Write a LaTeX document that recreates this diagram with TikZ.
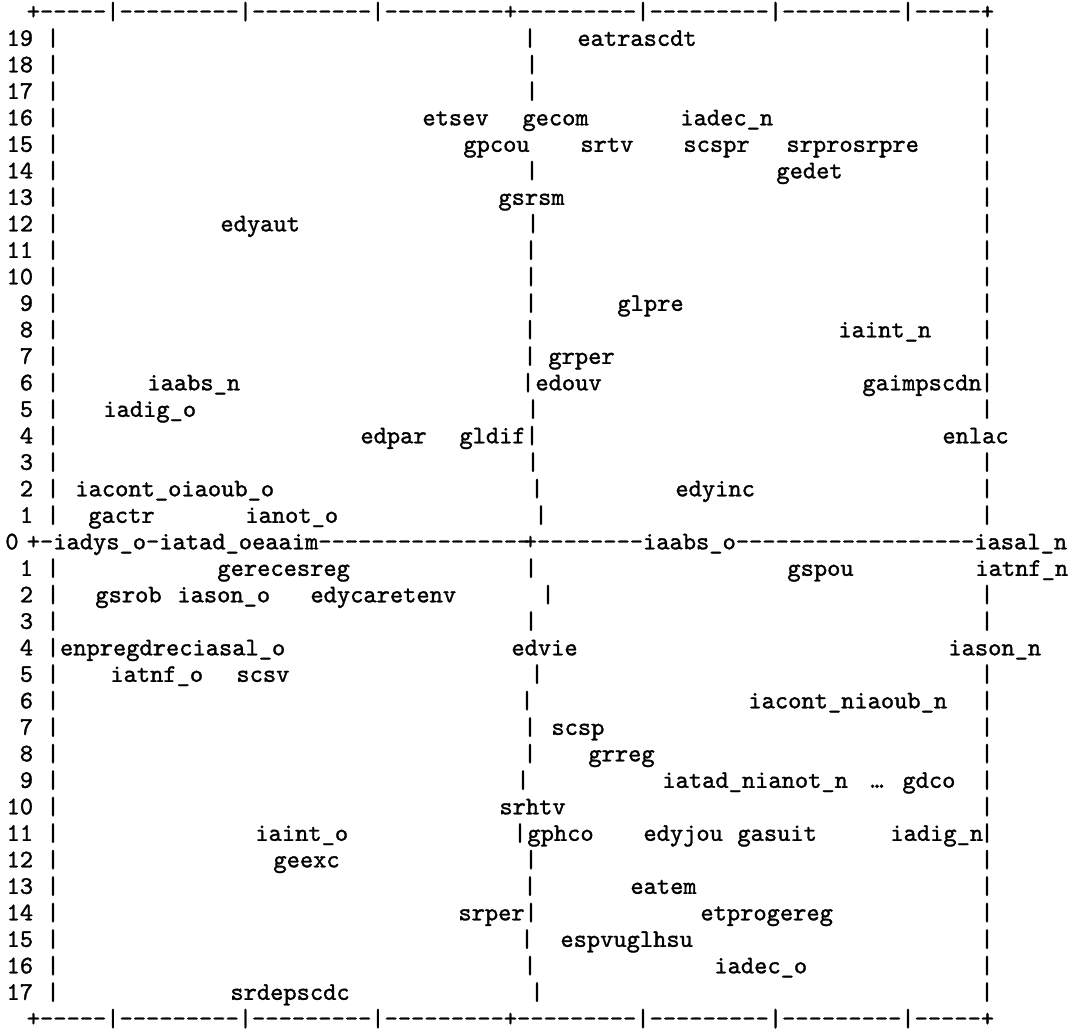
\documentclass[tikz,border=0pt]{standalone}
\usepackage{fontspec}
\newfontfamily\plotmono{lmmono10-regular.otf}[AutoFakeBold=1.3]
\newcommand\plotfont{\fontsize{12.62}{13}\selectfont\plotmono\bfseries}
\newcommand\dashrun[1]{\foreach \k in {1,...,#1}{\mbox{-}}}
\tikzset{
  lbl/.style={anchor=mid west,inner sep=0pt,font=\plotfont},
  bar/.style={anchor=mid,inner sep=0pt,font=\plotfont},
  num/.style={anchor=mid east,inner sep=0pt,font=\plotfont}
}
\begin{document}
\begin{tikzpicture}[x=0.5pt,y=13.25pt]
	\useasboundingbox (0,20.566) rectangle (1074,-18.377);
	% frame lines
	\node[lbl] (topline) at (26.4,20) {+\dashrun{5}|\dashrun{9}|\dashrun{9}|\dashrun{9}+\dashrun{9}|\dashrun{9}|\dashrun{9}|\dashrun{5}+};
	\node[lbl] (botline) at (26.4,-18) {+\dashrun{5}|\dashrun{9}|\dashrun{9}|\dashrun{9}+\dashrun{9}|\dashrun{9}|\dashrun{9}|\dashrun{5}+};
	\node[num] (zero) at (19,0) {0};
	\node[lbl] (axisleft) at (26.4,0) {+\mbox{-}iadys\_o\mbox{-}iatad\_oeaaim\dashrun{16}};
	\node[lbl] (axisright) at (523.4,0) {+\dashrun{8}iaabs\_o\dashrun{18}iasal\_n};
	% row numbers and sides
	\foreach \r in {1,...,19}{
		\node[num] at (33.5,\r) {\r};
		\node[bar] at (53,\r) {|};
	}
	\foreach \r in {1,...,17}{
		\node[num] at (33.5,-\r) {\r};
		\node[bar] at (53,-\r) {|};
	}
	\foreach \r in {1,2,3,5,6,...,19}
		\node[bar] at (987,\r) {|};
	\foreach \r in {2,3,5,6,...,17}
		\node[bar] at (987,-\r) {|};
	% middle axis
	\foreach \x/\r in {530/19,532/18,532/17,532/14,533/12,531/11,531/10,531/9,530/8,530/7,528/6,533/5,532/4,533/3,537/2,541/1,
		531/-1,548/-2,531/-3,537/-5,527/-6,530/-7,530/-8,523/-9,520/-11,531/-12,530/-13,531/-14,527/-15,530/-16,537/-17}
		\node[bar] at (\x,\r) {|};
	% upper half
	\node[lbl] (eatrascdt) at (577,19) {eatrascdt};
	\node[lbl] (etsev) at (422,16) {etsev};
	\node[lbl] (gecom) at (522,16) {gecom};
	\node[lbl] (iadecn) at (680,16) {iadec\_n};
	\node[lbl] (gpcou) at (463,15) {gpcou};
	\node[lbl] (srtv) at (580,15) {srtv};
	\node[lbl] (scspr) at (683,15) {scspr};
	\node[lbl] (srprosrpre) at (786,15) {srprosrpre};
	\node[lbl] (gedet) at (776,14) {gedet};
	\node[lbl] (gsrsm) at (498,13) {gsrsm};
	\node[lbl] (edyaut) at (220,12) {edyaut};
	\node[lbl] (glpre) at (617,9) {glpre};
	\node[lbl] (iaintn) at (838,8) {iaint\_n};
	\node[lbl] (grper) at (548,7) {grper};
	\node[lbl] (iaabsn) at (147,6) {iaabs\_n};
	\node[lbl] (edouv) at (535,6) {edouv};
	\node[lbl] (gaimpscdn) at (862,6) {gaimpscdn};
	\node[lbl] (iadigo) at (103,5) {iadig\_o};
	\node[lbl] (edpar) at (360,4) {edpar};
	\node[lbl] (gldif) at (459,4) {gldif};
	\node[lbl] (enlac) at (942,4) {enlac};
	\node[lbl] (iacontoiaouboo) at (75,2) {iacont\_oiaoub\_o};
	\node[lbl] (edyinc) at (675,2) {edyinc};
	\node[lbl] (gactr) at (88,1) {gactr};
	\node[lbl] (ianoto) at (245,1) {ianot\_o};
	% lower half
	\node[lbl] (gerecesreg) at (217,-1) {gerecesreg};
	\node[lbl] (gspou) at (787,-1) {gspou};
	\node[lbl] (iatnfn) at (975,-1) {iatnf\_n};
	\node[lbl] (gsrob) at (95,-2) {gsrob};
	\node[lbl] (iasono) at (177,-2) {iason\_o};
	\node[lbl] (edycaretenv) at (310,-2) {edycaretenv};
	\node[lbl] (enpregdreciasalo) at (59.6,-4) {enpregdreciasal\_o};
	\node[lbl] (edvie) at (511,-4) {edvie};
	\node[lbl] (iasonn) at (948,-4) {iason\_n};
	\node[lbl] (iatnfo) at (110,-5) {iatnf\_o};
	\node[lbl] (scsv) at (236,-5) {scsv};
	\node[lbl] (iacontniaoubn) at (748,-6) {iacont\_niaoub\_n};
	\node[lbl] (scsp) at (551,-7) {scsp};
	\node[lbl] (grreg) at (588,-8) {grreg};
	\node[lbl] (iatadnianotn) at (662,-9) {iatad\_nianot\_n};
	\node[lbl] (more) at (870,-9) {\textellipsis};
	\node[lbl] (gdco) at (902,-9) {gdco};
	\node[lbl] (srhtv) at (499,-10) {srhtv};
	\node[lbl] (iainto) at (255,-11) {iaint\_o};
	\node[lbl] (gphco) at (527,-11) {gphco};
	\node[lbl] (edyjou) at (643,-11) {edyjou};
	\node[lbl] (gasuit) at (737,-11) {gasuit};
	\node[lbl] (iadign) at (890,-11) {iadig\_n};
	\node[lbl] (geexc) at (273,-12) {geexc};
	\node[lbl] (eatem) at (630,-13) {eatem};
	\node[lbl] (srper) at (458,-14) {srper};
	\node[lbl] (etprogereg) at (700,-14) {etprogereg};
	\node[lbl] (espvuglhsu) at (560,-15) {espvuglhsu};
	\node[lbl] (iadeco) at (714,-16) {iadec\_o};
	\node[lbl] (srdepscdc) at (230,-17) {srdepscdc};
\end{tikzpicture}
\end{document}
